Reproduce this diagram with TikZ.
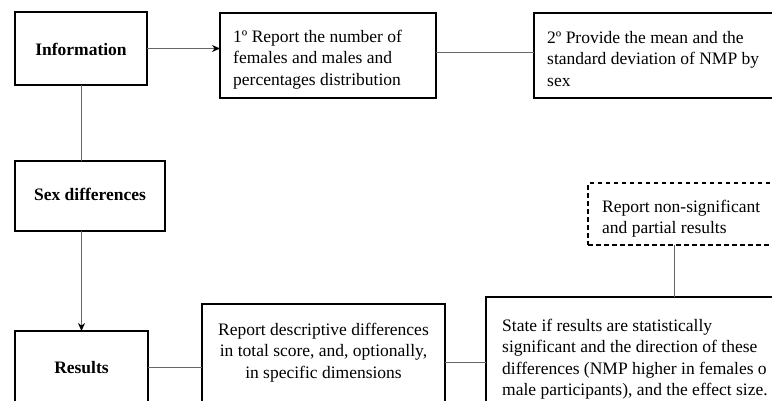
\documentclass[tikz,border=0pt]{standalone}
\usepackage{fontspec}
\setmainfont{Liberation Serif}
\usetikzlibrary{arrows.meta}
\begin{document}
\begin{tikzpicture}[x=1pt,y=-1pt,
  box/.style={draw=black,line width=1.3pt,anchor=north west,inner sep=0pt,outer sep=0pt},
  optbox/.style={box,dash pattern=on 4.5pt off 3.5pt,line width=1.1pt},
  link/.style={draw=black!60,line width=0.8pt},
  arrowlink/.style={link,-{Stealth[length=8pt,width=7pt,color=black]}},
  txt/.style={font=\fontsize{17.5}{21.5}\selectfont,inner sep=0pt,anchor=base west},
  ctxt/.style={txt,anchor=base},
  head/.style={font=\fontsize{17.5}{21}\selectfont\bfseries,inner sep=0pt,anchor=base},
]
\useasboundingbox (0,0) rectangle (772,400);
\clip (0,0) rectangle (772,400);
\fill[white] (0,0) rectangle (772,400);

% left column of headings
\node[box,minimum width=132pt,minimum height=73pt] (info) at (15,12) {};
\node[box,minimum width=150pt,minimum height=70pt] (sex) at (15,161) {};
\node[box,minimum width=133pt,minimum height=73pt] (results) at (15,331) {};
\node[head] (infolbl) at (81,55) {Information};
\node[head] (sexlbl) at (90,200) {Sex differences};
\node[head] (reslbl) at (81.5,373) {Results};

% reporting steps
\node[box,minimum width=216pt,minimum height=85pt] (step1) at (220,13) {};
\node[box,minimum width=280pt,minimum height=85pt] (step2) at (534,13) {};
\node[box,minimum width=243pt,minimum height=116pt] (descr) at (202,304) {};
\node[box,minimum width=320pt,minimum height=133pt] (signif) at (486,297) {};
\node[optbox,minimum width=220pt,minimum height=62pt] (partial) at (588,183) {};

\node[txt] (step1txt) at (233,42) {\parbox[t]{300pt}{\raggedright
  1º Report the number of\\females and males and\\percentages distribution}};
\node[txt] (step2txt) at (547,43) {\parbox[t]{300pt}{\raggedright
  2º Provide the mean and the\\standard deviation of NMP by\\sex}};
\node[txt] (partialtxt) at (602,212) {\parbox[t]{300pt}{\raggedright
  Report non-significant\\and partial results}};
\node[ctxt] (descrtxt) at (323.5,335) {\parbox[t]{300pt}{\centering
  Report descriptive differences\\in total score, and, optionally,\\in specific dimensions}};
\node[txt] (signiftxt) at (502,331) {\parbox[t]{320pt}{\raggedright
  State if results are statistically\\significant and the direction of these\\differences (NMP higher in females o\\male participants), and the effect size.}};

% connectors
\draw[arrowlink] (info.east) -- (info.east -| step1.west);
\draw[link] ([yshift=3.5pt]step1.east) -- ([yshift=3.5pt]step1.east -| step2.west);
\draw[link] (info.south) -- (info.south |- sex.north);
\draw[arrowlink] (results.north |- sex.south) -- (results.north);
\draw[link] (results.east) -- (results.east -| descr.west);
\draw[link] (descr.east) -- (descr.east -| signif.west);
\coordinate (tap) at ([xshift=86pt]partial.south west);
\draw[link] (tap) -- (tap |- signif.north);
\end{tikzpicture}
\end{document}
